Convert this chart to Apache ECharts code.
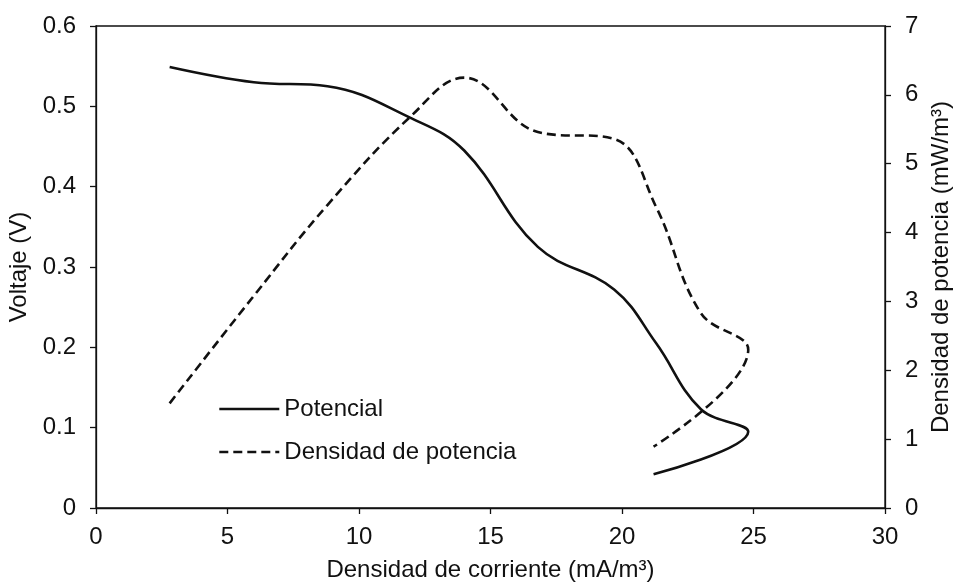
<!DOCTYPE html>
<html>
<head>
<meta charset="utf-8">
<script src="https://cdn.jsdelivr.net/npm/echarts@6/dist/echarts.min.js"></script>
<style>
  html, body { margin: 0; padding: 0; background: #fff; }
  #chart { width: 956px; height: 586px; }
</style>
</head>
<body>
<div id="chart"></div>
<script>
// densidad de corriente (mA/m3), voltaje (V), densidad de potencia (mW/m3)
var corriente = [2.8, 6.0, 8.8, 12.0, 14.0, 16.8, 19.7, 21.3, 23.0, 24.8, 21.2];
var voltaje = [0.549, 0.530, 0.525, 0.485, 0.445, 0.325, 0.272, 0.205, 0.123, 0.095, 0.042];
var potencia = [1.52, 3.08, 4.40, 5.70, 6.25, 5.46, 5.36, 4.37, 2.83, 2.30, 0.89];
var nombres = ["Potencial", "Densidad de potencia"];

var fuente = "Liberation Sans, Arial, sans-serif";
var txt = { color: "#111", fontFamily: fuente, fontSize: 24 };

function pares(ys) {
    return corriente.map(function (x, i) { return [x, ys[i]]; });
}

var chart = echarts.init(document.getElementById("chart"));
var option = {
    animation: false,
    grid: {
        left: 96, right: 71, top: 26, bottom: 78,
        outerBoundsMode: "none",
        show: true, borderColor: "#111", borderWidth: 1.3
    },
    legend: {
        orient: "vertical",
        left: 213,
        top: 392,
        itemWidth: 60,
        itemHeight: 14,
        itemGap: 19,
        textStyle: txt,
        itemStyle: { opacity: 0 },
        lineStyle: { width: 2.6 },
        data: nombres
    },
    xAxis: {
        type: "value",
        min: 0, max: 30, interval: 5,
        name: "Densidad de corriente (mA/m³)",
        nameLocation: "middle",
        nameGap: 50,
        nameTextStyle: txt,
        axisLine: { lineStyle: { color: "#111", width: 1.3 } },
        axisTick: { inside: false, length: 6, lineStyle: { color: "#111", width: 1.3 } },
        axisLabel: Object.assign({ margin: 17 }, txt),
        splitLine: { show: false }
    },
    yAxis: [{
        type: "value",
        min: 0, max: 0.6, interval: 0.1,
        name: "Voltaje (V)",
        nameLocation: "middle",
        nameGap: 63,
        nameTextStyle: txt,
        axisLine: { show: true, lineStyle: { color: "#111", width: 1.3 } },
        axisTick: { show: true, length: 6, lineStyle: { color: "#111", width: 1.3 } },
        axisLabel: Object.assign({ margin: 20, formatter: function (v) { return v === 0 ? "0" : v.toFixed(1); } }, txt),
        splitLine: { show: false }
    }, {
        type: "value",
        position: "right",
        min: 0, max: 7, interval: 1,
        name: "Densidad de potencia (mW/m³)",
        nameLocation: "middle",
        nameGap: 43,
        nameTextStyle: txt,
        axisLine: { show: true, lineStyle: { color: "#111", width: 1.3 } },
        axisTick: { show: true, length: 6, lineStyle: { color: "#111", width: 1.3 } },
        axisLabel: Object.assign({ margin: 20 }, txt),
        splitLine: { show: false }
    }],
    series: [{
        name: nombres[0],
        type: "line",
        yAxisIndex: 0,
        smooth: 0.4,
        symbol: "none",
        lineStyle: { color: "#111", width: 2.6 },
        itemStyle: { color: "#111" },
        data: pares(voltaje)
    }, {
        name: nombres[1],
        type: "line",
        yAxisIndex: 1,
        smooth: 0.4,
        symbol: "none",
        lineStyle: { color: "#111", width: 2.6, type: [9, 5] },
        itemStyle: { color: "#111" },
        data: pares(potencia)
    }]
};
chart.setOption(option);
</script>
</body>
</html>
